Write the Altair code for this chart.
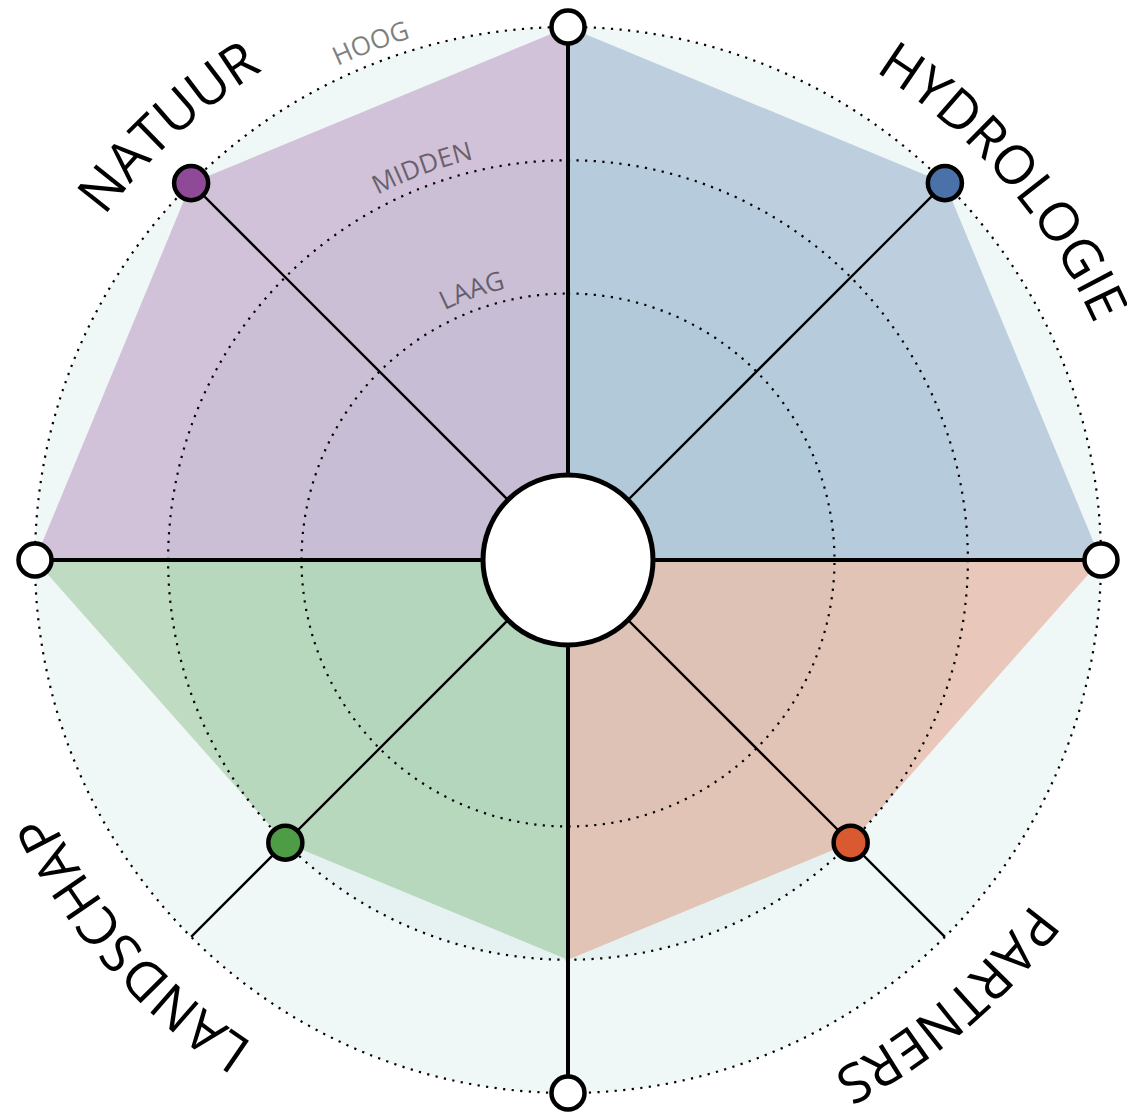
import math
import numpy as np
import pandas as pd
import altair as alt

# ---------------- data ----------------
themes = ["HYDROLOGIE", "PARTNERS", "LANDSCHAP", "NATUUR"]
theme_angle = [45, 135, 225, 315]          # direction of each theme (deg, clockwise from north)
theme_score = [4, 3, 3, 4]                 # 2 = LAAG, 3 = MIDDEN, 4 = HOOG
theme_color = ["#4a72a9", "#d95a30", "#4f9c46", "#8e4a96"]

axis_angle = [0, 90, 180, 270]             # N, E, S, W
axis_score = [4, 4, 3, 4]

level_names = ["LAAG", "MIDDEN", "HOOG"]
level_values = [2, 3, 4]
max_value = 4

# ---------------- layout constants ----------------
U = 133.25          # px per unit
W, H = 1119, 1104
CX, CY = 560, 552

x_scale = alt.Scale(domain=[-CX / U, (W - CX) / U], nice=False, zero=False)
y_scale = alt.Scale(domain=[-(H - CY) / U, CY / U], nice=False, zero=False)
r_scale = alt.Scale(type="linear", domain=[0, max_value], range=[0, max_value * U], zero=True)

# approximate Open Sans advance widths (em) for curved lettering
ADV = {"A": .633, "C": .631, "D": .729, "E": .556, "G": .726, "H": .738, "I": .279,
       "L": .519, "M": .907, "N": .764, "O": .779, "P": .602, "R": .618, "S": .549,
       "T": .553, "U": .726, "Y": .576}


def pol(r, deg):
    a = np.radians(deg)
    return float(np.round(r * np.sin(a), 9)), float(np.round(r * np.cos(a), 9))


def arc_chars(text, phi_c, r_b, fs):
    widths = [ADV[c] * fs for c in text]
    total = sum(widths)
    rpx = r_b * U
    s = -total / 2
    out = []
    for i, (c, w) in enumerate(zip(text, widths)):
        phi = phi_c + math.degrees((s + w / 2) / rpx)
        x, y = pol(r_b, phi)
        out.append({"label": text, "i": i, "ch": c, "x": x, "y": y, "rot": phi % 360})
        s += w
    return out


X = lambda f: alt.X(f, scale=x_scale, axis=None)
Y = lambda f: alt.Y(f, scale=y_scale, axis=None)
R = lambda f: alt.Radius(f, scale=r_scale, stack=None)

# background discs
disc_df = pd.DataFrame({"level": level_names, "value": level_values, "x": 0.0, "y": 0.0})
discs = alt.Chart(disc_df).mark_arc(
    theta=0, theta2=2 * math.pi, fill="#d6e8e8", fillOpacity=0.36
).encode(x=X("x:Q"), y=Y("y:Q"), radius=R("value:Q"))

# quadrant polygons
rows = []
for i, t in enumerate(themes):
    a0 = axis_angle[i]
    a1 = axis_angle[(i + 1) % 4]
    s0 = axis_score[i]
    s1 = axis_score[(i + 1) % 4]
    a1d = a1 if a1 != 0 else 360
    for r, a in [(s0, a0), (theme_score[i], theme_angle[i]), (s1, a1d)]:
        x, y = pol(r, a)
        rows.append({"theme": t, "x": x, "y": y, "y0": 0.0})
poly_df = pd.DataFrame(rows)

color_scale = alt.Scale(domain=themes, range=theme_color)
areas = alt.Chart(poly_df).mark_area(opacity=0.3, interpolate="linear").encode(
    x=X("x:Q"),
    y=alt.Y("y:Q", scale=y_scale, axis=None, stack=None),
    y2=alt.Y2("y0:Q"),
    color=alt.Color("theme:N", scale=color_scale, legend=None),
)

# dotted level circles
rings = alt.Chart(disc_df).mark_arc(
    theta=0, theta2=2 * math.pi, filled=False, stroke="black", strokeWidth=2.2,
    strokeDash=[2.2, 6.4]
).encode(x=X("x:Q"), y=Y("y:Q"), radius=R("value:Q"))

# spokes
ax_df = pd.DataFrame([{"x": 0.0, "y": 0.0, **dict(zip(["x2", "y2"], pol(max_value, a)))} for a in axis_angle])
dg_df = pd.DataFrame([{"x": 0.0, "y": 0.0, **dict(zip(["x2", "y2"], pol(max_value, a)))} for a in theme_angle])

axis_rules = alt.Chart(ax_df).mark_rule(stroke="black", strokeWidth=4).encode(
    x=X("x:Q"), y=Y("y:Q"), x2="x2:Q", y2="y2:Q")
diag_rules = alt.Chart(dg_df).mark_rule(stroke="black", strokeWidth=2.3).encode(
    x=X("x:Q"), y=Y("y:Q"), x2="x2:Q", y2="y2:Q")

# hub
hub_df = pd.DataFrame({"x": [0.0], "y": [0.0]})
hub = alt.Chart(hub_df).mark_arc(
    theta=0, theta2=2 * math.pi, fill="white", stroke="black", strokeWidth=5
).encode(x=X("x:Q"), y=Y("y:Q"), radius=alt.value(85))

# endpoint markers
end_df = pd.DataFrame([dict(zip(["x", "y"], pol(max_value, a))) for a in axis_angle])
ends = alt.Chart(end_df).mark_point(
    shape="circle", filled=True, fill="white", stroke="black", strokeWidth=4.5, size=1090, opacity=1
).encode(x=X("x:Q"), y=Y("y:Q"))

pt_df = pd.DataFrame([{"theme": t, **dict(zip(["x", "y"], pol(s, a)))}
                      for t, a, s in zip(themes, theme_angle, theme_score)])
points = alt.Chart(pt_df).mark_point(
    shape="circle", filled=True, stroke="black", strokeWidth=4.5, size=1160, opacity=1
).encode(x=X("x:Q"), y=Y("y:Q"), fill=alt.Fill("theme:N", scale=color_scale, legend=None))

# theme labels, curved along the outer circle
label_center = {"HYDROLOGIE": 49.0, "PARTNERS": 139.6, "LANDSCHAP": 228.6, "NATUUR": 317.3}
LABEL_RB = 4.33
LABEL_FS = 54
lab_rows = []
for t in themes:
    lab_rows += arc_chars(t, label_center[t], LABEL_RB, LABEL_FS)
lab_df = pd.DataFrame(lab_rows)
labels = alt.Chart(lab_df).mark_text(
    font="Open Sans", fontSize=LABEL_FS, color="black", align="center", baseline="alphabetic"
).encode(x=X("x:Q"), y=Y("y:Q"), text="ch:N", angle=alt.Angle("rot:Q", scale=None),
         detail="label:N")

# level labels, curved along their circles
level_center = {"LAAG": -19.6, "MIDDEN": -20.4, "HOOG": -20.9}
LV_FS = 26
lv_rows = []
for n, v in zip(level_names, level_values):
    lv_rows += arc_chars(n, level_center[n], v + 0.09, LV_FS)
lv_df = pd.DataFrame(lv_rows)
lv_labels = alt.Chart(lv_df).mark_text(
    font="Open Sans", fontSize=LV_FS, color="black", opacity=0.5, align="center",
    baseline="alphabetic"
).encode(x=X("x:Q"), y=Y("y:Q"), text="ch:N", angle=alt.Angle("rot:Q", scale=None),
         detail="label:N")

chart = alt.layer(
    discs, areas, rings, diag_rules, axis_rules, hub, ends, points, labels, lv_labels
).properties(
    width=W, height=H, autosize=alt.AutoSizeParams(type="none"), padding=0
).configure_view(stroke=None)

chart.save("out.html", embed_options={"renderer": "svg", "actions": False})
